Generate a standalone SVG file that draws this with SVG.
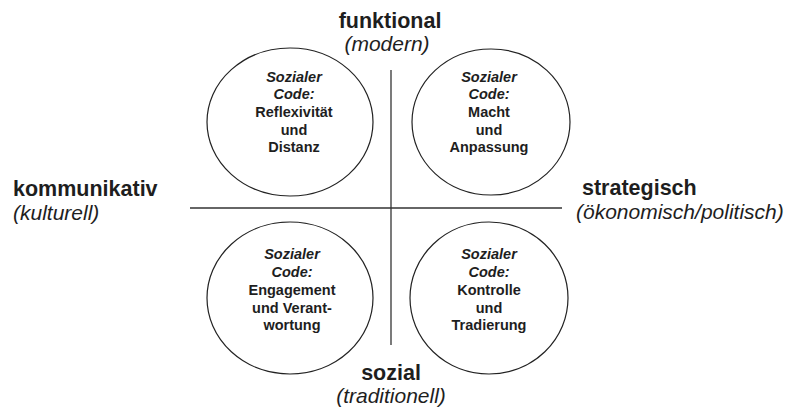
<svg xmlns="http://www.w3.org/2000/svg" width="794" height="411" viewBox="0 0 794 411">
<style>
.c{fill:none;stroke:#222;stroke-width:1.2}
.t{font-family:"Liberation Sans",Arial,sans-serif;fill:#1e1e1e;text-anchor:middle}
.s{font-size:14.5px;font-weight:bold}
.si{font-size:14.5px;font-weight:bold;font-style:italic}
.h{font-size:21.5px;font-weight:bold}
.p{font-size:21px;font-style:italic}
.ax{stroke:#333;stroke-width:1.3}
</style>
<rect width="794" height="411" fill="#fff"/>
<g id="axes">
<line class="ax" x1="190" y1="208" x2="562" y2="208" stroke="#555" stroke-width="1.8"/>
<line class="ax" x1="391" y1="70" x2="391" y2="345"/>
</g>
<g id="top">
<text class="t h" x="390" y="28">funktional</text>
<text class="t p" x="387" y="51">(modern)</text>
</g>
<g id="bottom">
<text class="t h" x="391" y="380">sozial</text>
<text class="t p" x="391" y="403">(traditionell)</text>
</g>
<g id="left">
<text class="t h" x="13" y="196" style="text-anchor:start">kommunikativ</text>
<text class="t p" x="13" y="220" style="text-anchor:start">(kulturell)</text>
</g>
<g id="right">
<text class="t h" x="582" y="195" style="text-anchor:start">strategisch</text>
<text class="t p" x="576" y="219" style="text-anchor:start">(ökonomisch/politisch)</text>
</g>
<g id="q1">
<ellipse class="c" cx="290" cy="122" rx="83" ry="74"/>
<text class="t si" x="294" y="82">Sozialer</text>
<text class="t si" x="294" y="99">Code:</text>
<text class="t s" x="294" y="117">Reflexivität</text>
<text class="t s" x="294" y="135">und</text>
<text class="t s" x="294" y="152">Distanz</text>
</g>
<g id="q2">
<ellipse class="c" cx="491" cy="122" rx="79" ry="73"/>
<text class="t si" x="489" y="82">Sozialer</text>
<text class="t si" x="489" y="99">Code:</text>
<text class="t s" x="489" y="117">Macht</text>
<text class="t s" x="489" y="135">und</text>
<text class="t s" x="489" y="152">Anpassung</text>
</g>
<g id="q3">
<ellipse class="c" cx="290" cy="298" rx="83" ry="76"/>
<text class="t si" x="292" y="259">Sozialer</text>
<text class="t si" x="292" y="277">Code:</text>
<text class="t s" x="292" y="295">Engagement</text>
<text class="t s" x="292" y="313">und Verant-</text>
<text class="t s" x="292" y="330">wortung</text>
</g>
<g id="q4">
<ellipse class="c" cx="489" cy="298" rx="79" ry="76"/>
<text class="t si" x="489" y="259">Sozialer</text>
<text class="t si" x="489" y="277">Code:</text>
<text class="t s" x="489" y="295">Kontrolle</text>
<text class="t s" x="489" y="313">und</text>
<text class="t s" x="489" y="330">Tradierung</text>
</g>
</svg>
